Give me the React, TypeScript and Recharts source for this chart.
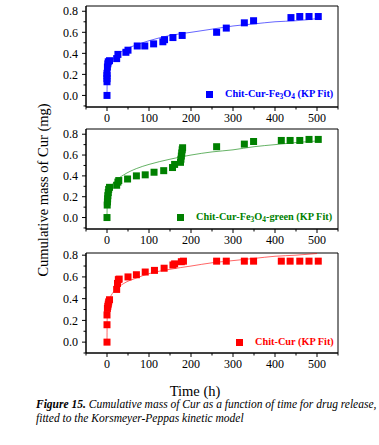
import React from "react";
import { ComposedChart, Scatter, Line, XAxis, YAxis, ReferenceArea } from "recharts";

const X_TICKS = [-50, 0, 50, 100, 150, 200, 250, 300, 350, 400, 450, 500, 550];
const Y_TICKS = [-0.1, 0, 0.1, 0.2, 0.3, 0.4, 0.5, 0.6, 0.7, 0.8];

// Chit-Cur-Fe3O4
const FE_TIME = [0, 0, 0, 0, 0, 1, 2, 3, 6, 23, 26, 45, 50, 72, 90, 111, 133, 137, 157, 179, 261, 284, 327, 349, 438, 459, 481, 503];
const FE_MASS = [0, 0.13, 0.16, 0.19, 0.21, 0.27, 0.3, 0.32, 0.33, 0.35, 0.39, 0.41, 0.43, 0.47, 0.47, 0.49, 0.51, 0.53, 0.55, 0.57, 0.6, 0.64, 0.69, 0.71, 0.74, 0.75, 0.75, 0.75];

// Chit-Cur-Fe3O4-green
const GREEN_TIME = [0, 0.5, 1, 1.5, 2, 3, 4, 6, 23, 26, 28, 49, 70, 91, 112, 135, 156, 161, 175, 176, 177, 178, 179, 180, 261, 327, 349, 415, 436, 459, 481, 503];
const GREEN_MASS = [0, 0.12, 0.15, 0.18, 0.21, 0.24, 0.27, 0.29, 0.31, 0.34, 0.355, 0.37, 0.4, 0.41, 0.435, 0.45, 0.48, 0.51, 0.53, 0.56, 0.59, 0.62, 0.65, 0.67, 0.68, 0.705, 0.73, 0.74, 0.74, 0.74, 0.75, 0.75];

// Chit-Cur
const CUR_TIME = [0, 0, 0, 1, 2, 3, 4, 6, 23, 25, 27, 29, 50, 70, 91, 113, 136, 157, 161, 177, 182, 261, 284, 327, 349, 415, 436, 459, 481, 503];
const CUR_MASS = [0, 0.16, 0.25, 0.31, 0.33, 0.35, 0.37, 0.39, 0.485, 0.54, 0.575, 0.58, 0.6, 0.62, 0.645, 0.66, 0.68, 0.71, 0.72, 0.74, 0.745, 0.745, 0.745, 0.745, 0.745, 0.745, 0.745, 0.745, 0.745, 0.745];

// KP fit curves
const FIT_TIME = [0, 0.5, 1, 2, 5, 10, 20, 40, 70, 100, 150, 200, 250, 300, 350, 400, 450, 500];
const FE_FIT = [0, 0.17, 0.2, 0.23, 0.28, 0.32, 0.37, 0.43, 0.48, 0.52, 0.57, 0.6, 0.63, 0.66, 0.68, 0.7, 0.71, 0.73];
const GREEN_FIT = [0, 0.15, 0.18, 0.21, 0.26, 0.3, 0.35, 0.41, 0.47, 0.51, 0.56, 0.6, 0.63, 0.65, 0.68, 0.7, 0.72, 0.735];
const CUR_FIT = [0, 0.26, 0.3, 0.33, 0.385, 0.43, 0.48, 0.54, 0.59, 0.63, 0.67, 0.7, 0.73, 0.75, 0.77, 0.79, 0.8, 0.815];

const SERIF = '"Liberation Serif", "DejaVu Serif", serif';

const zip = (t: number[], y: number[]) => t.map((v, i) => ({ t: v, y: y[i] }));

function XTick({ x, y, payload }: any) {
  const v = payload.value;
  const major = v % 100 === 0;
  return (
    <g>
      <line x1={x} x2={x} y1={y} y2={y + (major ? 4 : 2.5)} stroke="#000" />
      {major && (
        <text x={x} y={y + 11} dy="0.35em" textAnchor="middle" fontSize={12} style={{ fontFamily: SERIF }} fill="#000">
          {v}
        </text>
      )}
    </g>
  );
}

function YTick({ x, y, payload }: any) {
  const v = payload.value;
  const k = Math.round(v * 10);
  const major = k >= 0 && k % 2 === 0;
  return (
    <g>
      <line x1={x} x2={x - (major ? 4 : 2.5)} y1={y} y2={y} stroke="#000" />
      {major && (
        <text x={x - 8} y={y} dy="0.35em" textAnchor="end" fontSize={12} style={{ fontFamily: SERIF }} fill="#000">
          {v.toFixed(1)}
        </text>
      )}
    </g>
  );
}

const square = (color: string) => (p: any) =>
  <rect x={p.cx - 3.5} y={p.cy - 3.5} width={7} height={7} fill={color} />;

interface PanelProps {
  top: number;
  height: number;
  yMin: number;
  yMax: number;
  points: { t: number; y: number }[];
  fit: { t: number; y: number }[];
  color: string;
}

function Panel({ top, height, yMin, yMax, points, fit, color }: PanelProps) {
  return (
    <div style={{ position: "absolute", left: 0, top }}>
      <ComposedChart width={379} height={height} margin={{ top: 6, right: 41, bottom: 0, left: 0 }}>
        <XAxis
          dataKey="t"
          type="number"
          domain={[-50, 550]}
          ticks={X_TICKS}
          interval={0}
          allowDataOverflow
          height={18}
          tickSize={0}
          tickMargin={0}
          tickLine={false}
          axisLine={{ stroke: "#000" }}
          tick={<XTick />}
        />
        <YAxis
          dataKey="y"
          type="number"
          domain={[yMin, yMax]}
          ticks={Y_TICKS}
          interval={0}
          allowDataOverflow
          width={86}
          tickSize={0}
          tickMargin={0}
          tickLine={false}
          axisLine={{ stroke: "#000" }}
          tick={<YTick />}
        />
        <ReferenceArea x1={-50} x2={550} y1={yMin} y2={yMax} fill="none" stroke="#000" strokeWidth={1} />
        <Line
          data={fit}
          dataKey="y"
          type="monotone"
          stroke={color}
          strokeOpacity={0.6}
          strokeWidth={1}
          dot={false}
          isAnimationActive={false}
        />
        <Scatter data={points} dataKey="y" shape={square(color)} isAnimationActive={false} />
      </ComposedChart>
    </div>
  );
}

function Key({ cx, cy, textX, color, children }: any) {
  return (
    <>
      <div style={{ position: "absolute", left: cx - 3.5, top: cy - 3.5, width: 7, height: 7, background: color }} />
      <div
        style={{
          position: "absolute",
          left: textX,
          top: cy - 7,
          height: 14,
          lineHeight: "14px",
          fontSize: 10.3,
          fontWeight: "bold",
          color,
          whiteSpace: "nowrap",
        }}
      >
        {children}
      </div>
    </>
  );
}

const Sub = ({ children }: any) => (
  <sub style={{ fontSize: "0.72em", verticalAlign: "-0.3em", lineHeight: 0 }}>{children}</sub>
);

export default function App() {
  return (
    <div
      style={{
        position: "absolute",
        left: 0,
        top: 0,
        width: 379,
        height: 445,
        background: "#fff",
        fontFamily: SERIF,
        color: "#000",
      }}
    >
      <Panel top={0} height={125} yMin={-0.11} yMax={0.85} points={zip(FE_TIME, FE_MASS)} fit={zip(FIT_TIME, FE_FIT)} color="#0000ff" />
      <Panel top={123} height={124} yMin={-0.11} yMax={0.85} points={zip(GREEN_TIME, GREEN_MASS)} fit={zip(FIT_TIME, GREEN_FIT)} color="#008000" />
      <Panel top={247} height={124} yMin={-0.1} yMax={0.82} points={zip(CUR_TIME, CUR_MASS)} fit={zip(FIT_TIME, CUR_FIT)} color="#ff0000" />

      <Key cx={209} cy={94} textX={225} color="#0000ff">
        Chit-Cur-Fe<Sub>3</Sub>O<Sub>4</Sub> (KP Fit)
      </Key>
      <Key cx={180} cy={217} textX={196} color="#008000">
        Chit-Cur-Fe<Sub>3</Sub>O<Sub>4</Sub>-green (KP Fit)
      </Key>
      <Key cx={239} cy={342} textX={255} color="#ff0000">
        Chit-Cur (KP Fit)
      </Key>

      <div
        style={{
          position: "absolute",
          left: 43 - 100,
          top: 190 - 8,
          width: 200,
          height: 16,
          lineHeight: "16px",
          textAlign: "center",
          fontSize: 14.5,
          transform: "rotate(-90deg)",
          whiteSpace: "nowrap",
        }}
      >
        Cumulative mass of Cur (mg)
      </div>
      <div
        style={{
          position: "absolute",
          left: 195 - 60,
          top: 391 - 6,
          width: 120,
          height: 12,
          lineHeight: "12px",
          textAlign: "center",
          fontSize: 14.5,
          whiteSpace: "nowrap",
        }}
      >
        Time (h)
      </div>
      <div style={{ position: "absolute", left: 36, top: 398, fontSize: 11.5, lineHeight: "12px", fontStyle: "italic", whiteSpace: "nowrap" }}>
        <b>Figure 15.</b> Cumulative mass of Cur as a function of time for drug release,
      </div>
      <div style={{ position: "absolute", left: 36, top: 412, fontSize: 11.5, lineHeight: "12px", fontStyle: "italic", whiteSpace: "nowrap" }}>
        fitted to the Korsmeyer-Peppas kinetic model
      </div>
    </div>
  );
}
